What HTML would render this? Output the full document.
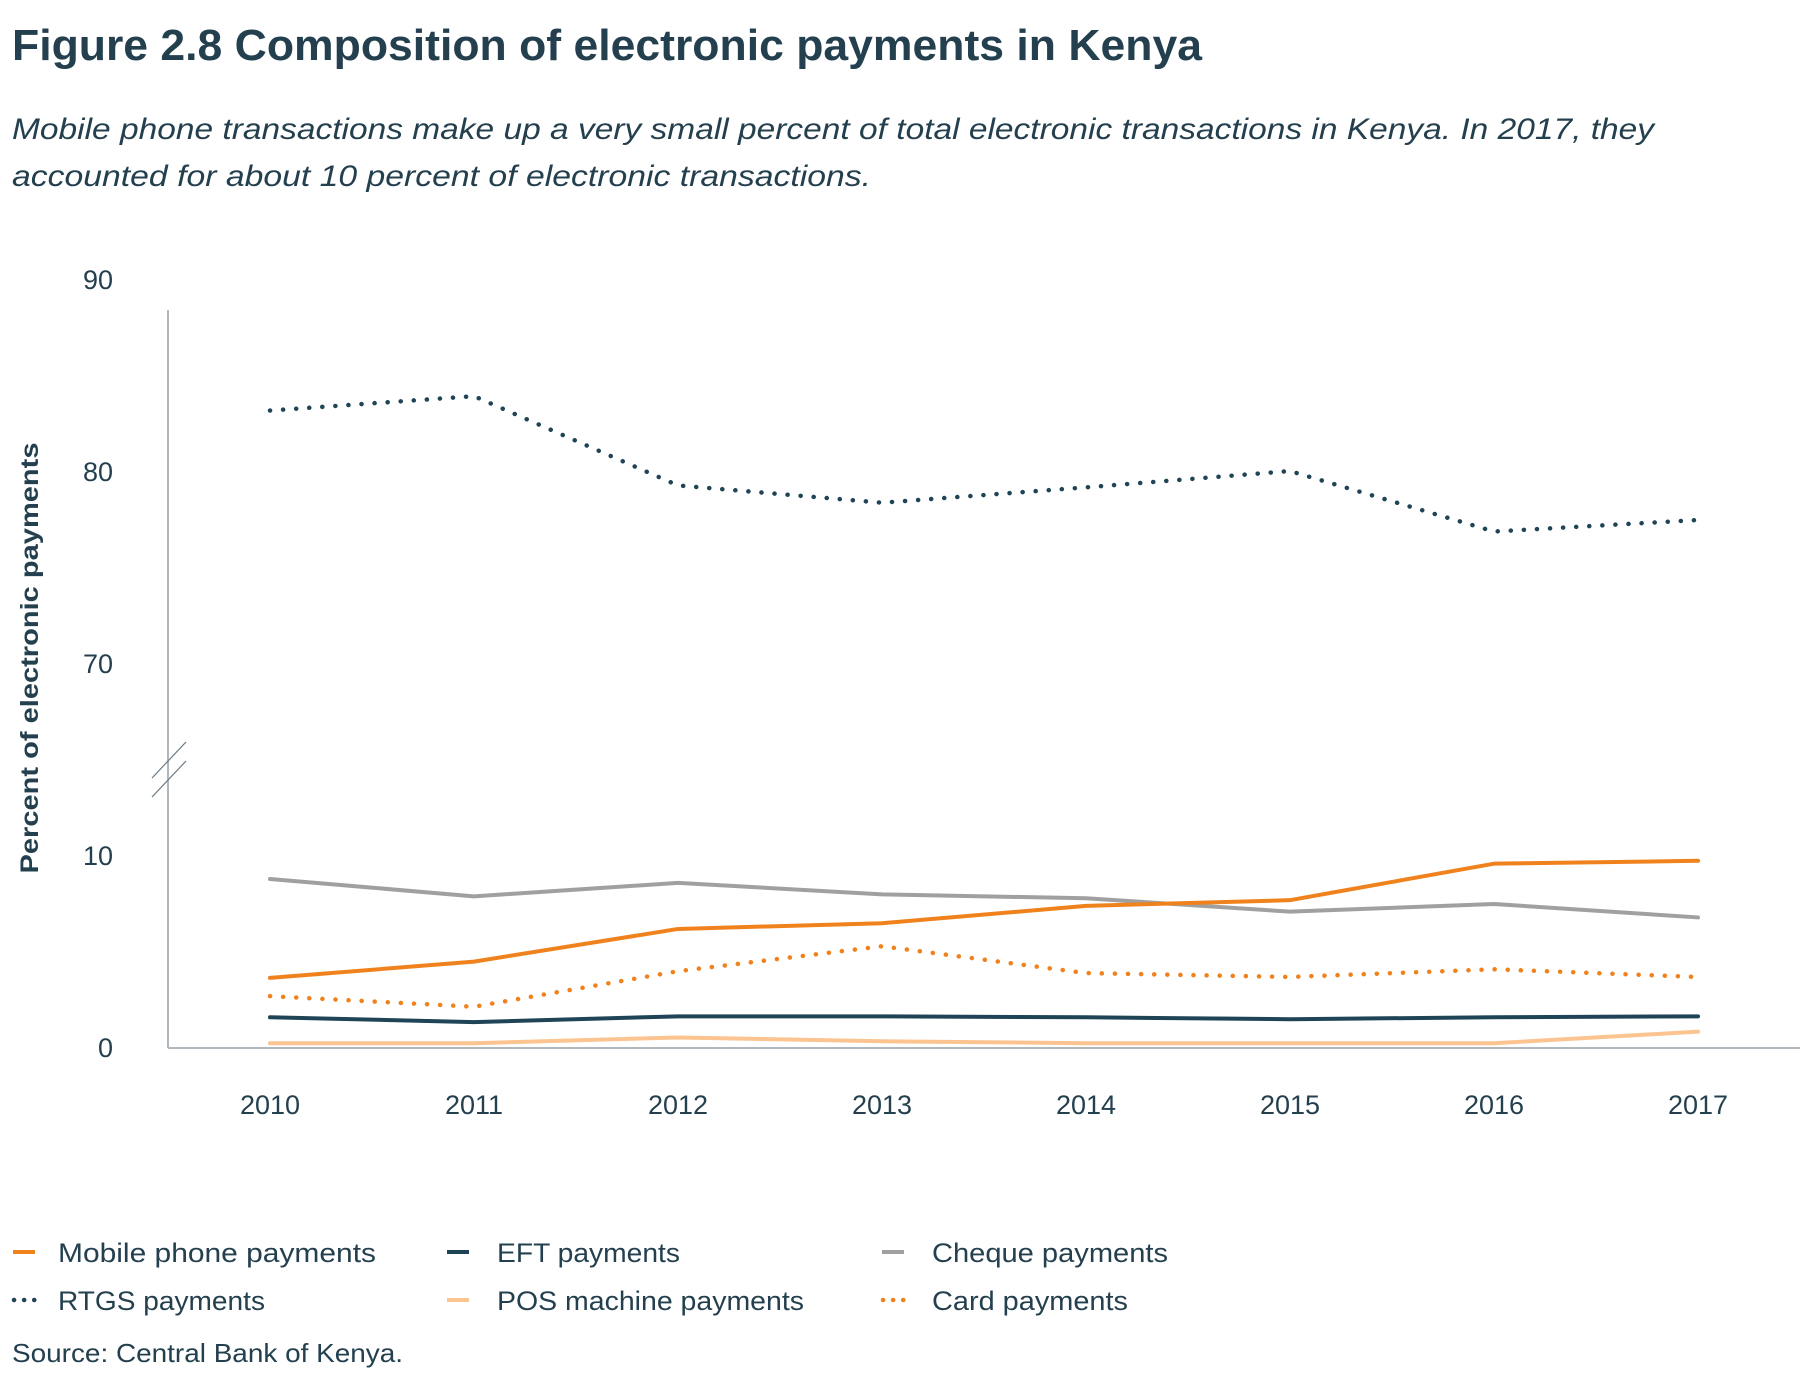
<!DOCTYPE html>
<html><head><meta charset="utf-8"><style>
body{margin:0;background:#fff;width:1804px;height:1374px;overflow:hidden;font-family:"Liberation Sans",sans-serif;color:#24404f}
svg{display:block}
</style></head><body>
<svg width="1804" height="1374" xmlns="http://www.w3.org/2000/svg">
<text x="12" y="60" font-size="44" font-weight="bold" fill="#24404f" textLength="1190" lengthAdjust="spacingAndGlyphs">Figure 2.8 Composition of electronic payments in Kenya</text>
<text x="12" y="139" font-size="30" font-style="italic" fill="#24404f" textLength="1642" lengthAdjust="spacingAndGlyphs">Mobile phone transactions make up a very small percent of total electronic transactions in Kenya. In 2017, they</text>
<text x="12" y="186" font-size="30" font-style="italic" fill="#24404f" textLength="859" lengthAdjust="spacingAndGlyphs">accounted for about 10 percent of electronic transactions.</text>
<g id="axes"></g>
<g id="series"></g>
<g id="legend"></g>
<text x="12" y="1362" font-size="26" fill="#24404f" textLength="391" lengthAdjust="spacingAndGlyphs">Source: Central Bank of Kenya.</text>
</svg>
<script>
const years = ['2010','2011','2012','2013','2014','2015','2016','2017'];
const yTicks = [0,10,70,80,90];
const rtgs = [83.2,83.95,79.3,78.4,79.2,80.05,76.9,77.5];
const mobile = [3.65,4.5,6.2,6.5,7.4,7.7,9.6,9.75];
const cheque = [8.8,7.9,8.6,8.0,7.8,7.1,7.5,6.8];
const card = [2.7,2.15,4.0,5.3,3.9,3.7,4.1,3.7];
const eft = [1.6,1.35,1.65,1.65,1.6,1.5,1.6,1.65];
const pos = [0.25,0.25,0.55,0.35,0.25,0.25,0.25,0.85];

const NS='http://www.w3.org/2000/svg';
function mk(tag,attrs,parent){const e=document.createElementNS(NS,tag);for(const k in attrs)e.setAttribute(k,attrs[k]);parent.appendChild(e);return e;}
const PX=19.2, Y0=1048;
function yScale(v){return v>=40 ? Y0-(v-50)*PX : Y0-v*PX;}
function xScale(i){return 270+i*204;}
const axes=document.getElementById('axes');
let a=mk('line',{x1:168,y1:310,x2:168,y2:1048,stroke:'#b0b8bd','stroke-width':2},axes);


a=mk('line',{x1:168,y1:1048,x2:1800,y2:1048,stroke:'#b0b8bd','stroke-width':2},axes);


a=mk('line',{x1:152,y1:778,x2:186,y2:742,stroke:'#6a7a84','stroke-width':1.2},axes);


a=mk('line',{x1:152,y1:797,x2:186,y2:761,stroke:'#6a7a84','stroke-width':1.2},axes);


yTicks.forEach(v=>{
  const t=mk('text',{x:113,y:yScale(v)+9,'font-size':27,'text-anchor':'end',fill:'#24404f'},axes);
  t.textContent=v;
  
  
});
years.forEach((y,i)=>{
  const t=mk('text',{x:xScale(i),y:1114,'font-size':27,'text-anchor':'middle',fill:'#24404f'},axes);
  t.textContent=y;
  
  
});
const yt=mk('text',{x:0,y:0,'font-size':25,'font-weight':'bold','text-anchor':'middle',fill:'#24404f',textLength:431,lengthAdjust:'spacingAndGlyphs',transform:'translate(38,658) rotate(-90)'},axes);
yt.textContent='Percent of electronic payments';



const defs=[
 {name:'pos',data:pos,color:'#fbc490',dash:null,label:'POS machine payments',len:307},
 {name:'eft',data:eft,color:'#1f4456',dash:null,label:'EFT payments',len:183},
 {name:'card',data:card,color:'#f0821e',dash:'0.1 13',label:'Card payments',len:196},
 {name:'cheque',data:cheque,color:'#a0a0a0',dash:null,label:'Cheque payments',len:236},
 {name:'mobile',data:mobile,color:'#f0821e',dash:null,label:'Mobile phone payments',len:318},
 {name:'rtgs',data:rtgs,color:'#1f4456',dash:'0.1 13',label:'RTGS payments',len:207}
];
const sg=document.getElementById('series');
defs.forEach(s=>{
  const d=s.data.map((v,i)=>(i?'L':'M')+xScale(i)+','+yScale(v)).join(' ');
  const at={d:d,fill:'none',stroke:s.color,'stroke-width':s.dash?4.5:4,'stroke-linejoin':'round','stroke-linecap':'round'};
  if(s.dash)at['stroke-dasharray']=s.dash;
  const p=mk('path',at,sg);
  
  
});
const lg=document.getElementById('legend');
const order=[['mobile',12,1252],['eft',446,1252],['cheque',881,1252],['rtgs',12,1300],['pos',446,1300],['card',881,1300]];
order.forEach(([n,x,y])=>{
  const s=defs.find(d=>d.name===n);
  const g=mk('g',{},lg);
  
  
  const at={x1:x+1,y1:y,x2:x+23,y2:y,stroke:s.color,'stroke-width':4,'stroke-linecap':s.dash?'round':'butt'};
  if(s.dash){at['stroke-dasharray']='0.1 10';at['stroke-width']=4.5;at.x1=x+2;}
  mk('line',at,g);
  const t=mk('text',{x:x+(x===12?46:51),y:y+10,'font-size':27,fill:'#24404f',textLength:s.len,lengthAdjust:'spacingAndGlyphs'},g);
  t.textContent=s.label;
});
</script>
</body></html>
